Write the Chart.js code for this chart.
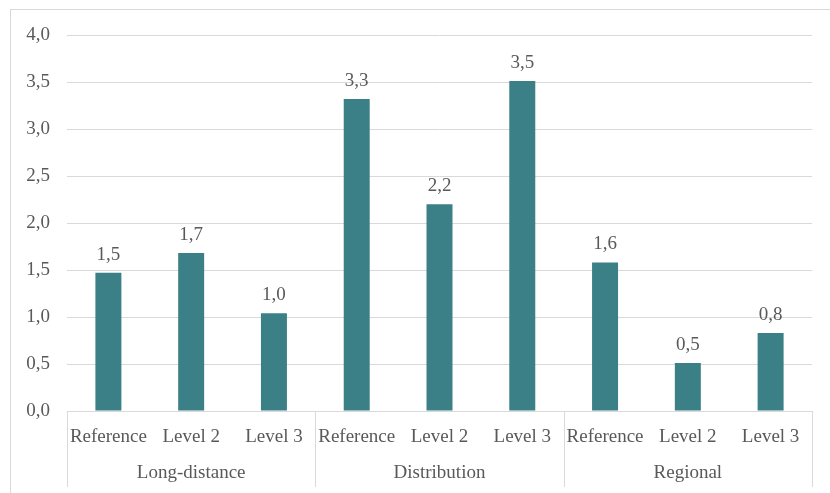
<!DOCTYPE html>
<html>
<head>
<meta charset="utf-8">
<script src="https://cdn.jsdelivr.net/npm/chart.js@4"></script>
<style>
  html, body { margin: 0; padding: 0; background: #fff; }
  #wrap { position: relative; width: 830px; height: 493px; }
</style>
</head>
<body>
<div id="wrap"><canvas id="barChart" width="830" height="493"></canvas></div>
<script>
var categories = ["Reference", "Level 2", "Level 3", "Reference", "Level 2", "Level 3", "Reference", "Level 2", "Level 3"];
var groups = ["Long-distance", "Distribution", "Regional"];
var values = [1.47, 1.68, 1.04, 3.32, 2.20, 3.51, 1.58, 0.51, 0.83];
var yTicks = [0, 0.5, 1, 1.5, 2, 2.5, 3, 3.5, 4];

var textColor = '#595959';
var lineColor = '#d9d9d9';
var fontFamily = '"Liberation Serif", "Times New Roman", serif';

function fmt(v) {
  return v.toFixed(1).replace('.', ',');
}

// value labels above bars
var valueLabels = {
  id: 'valueLabels',
  afterDatasetsDraw: function (chart) {
    var ctx = chart.ctx;
    var meta = chart.getDatasetMeta(0);
    ctx.save();
    ctx.font = '19px ' + fontFamily;
    ctx.fillStyle = textColor;
    ctx.textAlign = 'center';
    ctx.textBaseline = 'alphabetic';
    meta.data.forEach(function (bar, i) {
      ctx.fillText(fmt(values[i]), bar.x, bar.y - 13);
    });
    ctx.restore();
  }
};

// group labels + separators under the x axis, plus the outer frame
var groupAxis = {
  id: 'groupAxis',
  afterDraw: function (chart) {
    var ctx = chart.ctx;
    var x = chart.scales.x;
    var area = chart.chartArea;
    var step = x.getPixelForValue(1) - x.getPixelForValue(0);
    ctx.save();
    ctx.strokeStyle = lineColor;
    ctx.lineWidth = 1;
    for (var g = 0; g <= groups.length; g++) {
      var px = Math.round(x.getPixelForValue(g * 3) - step / 2) + 0.5;
      ctx.beginPath();
      ctx.moveTo(px, area.bottom);
      ctx.lineTo(px, area.bottom + 76);
      ctx.stroke();
    }
    ctx.font = '19px ' + fontFamily;
    ctx.fillStyle = textColor;
    ctx.textAlign = 'center';
    ctx.textBaseline = 'middle';
    groups.forEach(function (name, g) {
      var cx = x.getPixelForValue(g * 3 + 1);
      ctx.fillText(name, cx, area.bottom + 62);
    });
    // outer frame
    ctx.strokeStyle = lineColor;
    ctx.strokeRect(10.5, 9.5, 830, 490);
    ctx.restore();
  }
};

var myBarChart = new Chart(document.getElementById('barChart'), {
  type: 'bar',
  data: {
    labels: categories,
    datasets: [{
      data: values,
      backgroundColor: '#3b8087',
      borderWidth: 0,
      barPercentage: 0.314,
      categoryPercentage: 1.0
    }]
  },
  options: {
    responsive: false,
    animation: false,
    layout: { padding: { top: 35, right: 18, left: 0, bottom: 0 } },
    plugins: {
      legend: { display: false },
      tooltip: { enabled: false }
    },
    scales: {
      x: {
        grid: { display: false },
        border: { display: true, color: lineColor, width: 1 },
        ticks: {
          color: textColor,
          font: { family: fontFamily, size: 19 },
          padding: 7,
          maxRotation: 0,
          autoSkip: false
        },
        afterFit: function (scale) { scale.height = 82; }
      },
      y: {
        min: 0,
        max: 4,
        afterBuildTicks: function (scale) {
          scale.ticks = yTicks.map(function (v) { return { value: v }; });
        },
        grid: { color: lineColor, lineWidth: 1, drawTicks: false },
        border: { display: false },
        ticks: {
          color: textColor,
          font: { family: fontFamily, size: 19 },
          padding: 17,
          callback: function (v) { return fmt(v); }
        },
        afterFit: function (scale) { scale.width = 67; }
      }
    }
  },
  plugins: [valueLabels, groupAxis]
});
</script>
</body>
</html>
